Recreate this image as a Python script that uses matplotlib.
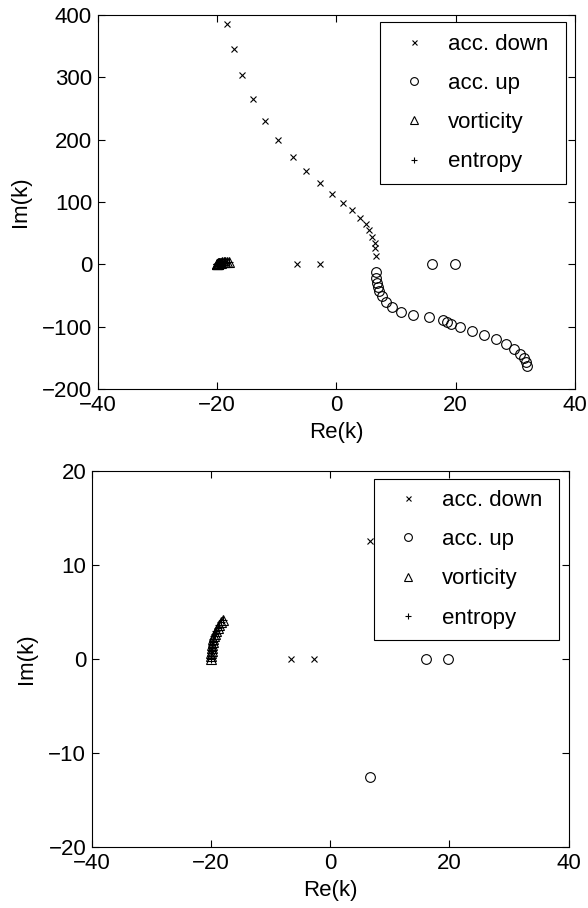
import matplotlib
matplotlib.use("Agg")
import matplotlib.pyplot as plt

plt.rcParams["font.family"] = ["Liberation Sans", "DejaVu Sans"]
plt.rcParams["font.size"] = 16

# wavenumbers (both panels show the same data)
acc_down_re = [-18.3, -17.2, -15.8, -14.0, -12.0, -9.8, -7.3, -5.0, -2.7, -0.7,
               1.1, 2.6, 3.9, 4.9, 5.4, 6.0, 6.4, 6.5, 6.65, -6.6, -2.7]
acc_down_im = [386, 345, 304, 265, 230, 199, 172, 149, 130, 113,
               98.7, 86.4, 74.7, 64, 54.4, 44.3, 34.7, 25.6, 12.6, 0, 0]

acc_up_re = [16.0, 19.8, 6.65, 6.7, 6.8, 6.9, 7.2, 7.65, 8.4, 9.4, 10.8, 12.8, 15.5,
             17.8, 18.5, 19.2, 20.8, 22.7, 24.8, 26.8, 28.5, 29.8, 30.7, 31.4, 31.8, 32.0]
acc_up_im = [0, 0, -12.6, -21.3, -29.3, -36.3, -42.7, -50.7, -59.7, -68.3, -75.7, -81, -85.3,
             -89, -92.3, -96, -101.3, -106.7, -113, -120, -128, -136, -144, -151, -157.3, -162.7]

vort_re = [-20.0, -20.0, -19.95, -19.9, -19.85, -19.8, -19.7, -19.6,
           -19.45, -19.3, -19.1, -18.9, -18.6, -18.35, -18.0]
vort_im = [0.0, 0.3, 0.6, 0.9, 1.2, 1.5, 1.8, 2.1, 2.4, 2.7, 3.0, 3.3, 3.6, 3.9, 4.2]

entropy_re = [-20.0, -20.0, -19.95, -19.9, -19.85, -19.8, -19.7, -19.6,
              -19.45, -19.3, -19.1, -18.9, -18.6, -18.35, -18.0]
entropy_im = [0.0, 0.3, 0.6, 0.9, 1.2, 1.5, 1.8, 2.1, 2.4, 2.7, 3.0, 3.3, 3.6, 3.9, 4.2]

panels = [
    ([0.166, 0.5716, 0.812, 0.4119], (-200, 400), [-200, -100, 0, 100, 200, 300, 400]),
    ([0.156, 0.0672, 0.811, 0.414], (-20, 20), [-20, -10, 0, 10, 20]),
]

fig = plt.figure(figsize=(5.88, 9.08), dpi=100)

for pos, ylim, yticks in panels:
    ax = fig.add_axes(pos)
    ax.plot(acc_down_re, acc_down_im, "x", color="k", ms=4.5, mew=0.8, label="acc. down")
    ax.plot(acc_up_re, acc_up_im, "o", color="k", mfc="none", ms=7, mew=0.8, label="acc. up")
    ax.plot(vort_re, vort_im, "^", color="k", mfc="none", ms=6.5, mew=0.8, label="vorticity")
    ax.plot(entropy_re, entropy_im, "+", color="k", ms=6, mew=0.8, label="entropy")
    ax.set_xlim(-40, 40)
    ax.set_ylim(*ylim)
    ax.set_xticks([-40, -20, 0, 20, 40])
    ax.set_yticks(yticks)
    ax.tick_params(direction="in", top=True, right=True, length=5, width=0.8, pad=4)
    for sp in ax.spines.values():
        sp.set_linewidth(0.8)
    ax.set_xlabel("Re(k)", labelpad=5)
    ax.set_ylabel("Im(k)", labelpad=8)
    # box wider than its content, as in the original (extra room on the right)
    leg = ax.legend(loc="upper left", bbox_to_anchor=(0.592, 0.0, 0.388, 0.98),
                    mode="expand", borderaxespad=0, fancybox=False, edgecolor="k",
                    framealpha=1, labelspacing=0.82, borderpad=0.51, handlelength=2.06,
                    handletextpad=0.47, markerscale=0.8)
    leg.get_frame().set_linewidth(0.8)

fig.savefig("out.png", dpi=100)
